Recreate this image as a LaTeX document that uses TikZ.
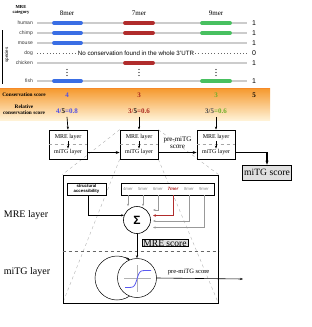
\documentclass[tikz,border=0pt]{standalone}
\usepackage{fontspec}
\setmainfont{Liberation Serif}
\setsansfont{Liberation Sans}
\usetikzlibrary{arrows.meta, positioning, calc, backgrounds}

\definecolor{merblue}{RGB}{58,110,228}
\definecolor{merred}{RGB}{176,44,44}
\definecolor{mergreen}{RGB}{72,192,96}
\definecolor{valblue}{RGB}{80,80,230}
\definecolor{valred}{RGB}{170,40,30}
\definecolor{valgreen}{RGB}{110,175,40}
\definecolor{bandtop}{RGB}{245,152,44}
\definecolor{bandbot}{RGB}{255,242,214}
\definecolor{sigblue}{RGB}{90,90,240}

\begin{document}
\begin{tikzpicture}[
    x=1pt, y=-1pt,
    spname/.style={anchor=east, font=\fontsize{5}{6}\selectfont\sffamily, text=black!80, inner sep=1pt},
    rowline/.style={draw=black!20, line width=1.4pt},
    merbar/.style={line width=3.8pt, line cap=round},
    hitnum/.style={font=\fontsize{7}{8}\selectfont\sffamily},
    colhead/.style={font=\fontsize{7}{8}\selectfont},
    lbl/.style={font=\fontsize{5.3}{5.8}\selectfont\bfseries, align=center},
    val/.style={font=\fontsize{7}{8}\selectfont\bfseries},
    layerbox/.style={draw, line width=0.7pt, minimum width=38pt, minimum height=29pt},
    boxtext/.style={font=\fontsize{6}{7}\selectfont, inner sep=1pt},
    flow/.style={-{Stealth[length=4pt,width=3pt]}, line width=1.2pt},
    thinarrow/.style={-{Stealth[length=3pt,width=2.2pt]}, line width=0.5pt},
    zoomline/.style={draw=black!30, dashed, line width=0.4pt},
    layername/.style={font=\fontsize{10}{12}\selectfont},
    merlbl/.style={font=\fontsize{4.3}{5}\selectfont\sffamily, text=black!45, inner sep=0.5pt},
    feed/.style={-{Stealth[length=2.5pt,width=2pt]}, draw=black!40, line width=0.6pt},
    scorebox/.style={draw, fill=black!12, line width=0.6pt}
]
\useasboundingbox (0,0) rectangle (312,327);

% conservation band
\shade[top color=bandtop, bottom color=bandbot] (0,88) rectangle (270,120);
\draw[bandtop!90!red, line width=1pt] (0,88) -- (270,88);

% alignment of the MRE sites
\node[lbl, font=\fontsize{4.6}{5.2}\selectfont\bfseries] (category) at (21,10) {MRE\\category};
\node[colhead] (h8) at (67,13) {8mer};
\node[colhead] (h7) at (139,13) {7mer};
\node[colhead] (h9) at (216,13) {9mer};

\foreach \sp/\y in {human/23, chimp/33, mouse/43, chicken/63, fish/81}{
    \node[spname] (\sp) at (34,\y) {\sp};
    \draw[rowline] (37,\y) -- (247,\y);
    \node[hitnum] (hit-\sp) at (254,\y) {1};
}
\foreach \y in {23,33,43,81} \draw[merbar, merblue] (54,\y) -- (81,\y);
\foreach \y in {23,33,63} \draw[merbar, merred] (125,\y) -- (153,\y);
\foreach \y in {23,33,81} \draw[merbar, mergreen] (202,\y) -- (230,\y);

\node[spname] (dog) at (34,53) {dog};
\node[font=\fontsize{6.2}{7}\selectfont\sffamily, inner sep=1pt] (nocons) at (136,53) {No conservation found in the whole 3'UTR};
\draw[black!60, line width=0.6pt, dash pattern=on 0.6pt off 2.6pt] (37,53) -- (nocons.west);
\draw[black!60, line width=0.6pt, dash pattern=on 0.6pt off 2.6pt] (nocons.east) -- (247,53);
\node[hitnum] (hit-dog) at (254,53) {0};

\foreach \x in {67,139,216}
    \foreach \d in {69.5,72.5,75.5} \fill (\x,\d) circle (0.55pt);

\draw[line width=0.5pt] (2.5,30) -- (2.5,84);
\node[rotate=90, font=\fontsize{4.5}{5}\selectfont\sffamily] (species) at (7,55) {species};

% scores
\node[lbl] (cons) at (24,95) {Conservation score};
\node[lbl] (relcons) at (24,110) {Relative\\conservation score};
\node[val, text=valblue] (c8) at (67,95) {4};
\node[val, text=valred] (c7) at (139,95) {3};
\node[val, text=valgreen] (c9) at (216,95) {3};
\node[val] (ctot) at (254,95) {5};
\node[val, text=valblue] (r8) at (67,111) {4/\textcolor{black}{5}=0.8};
\node[val, text=valred] (r7) at (139,111) {3/\textcolor{black}{5}=0.6};
\node[val, text=valgreen] (r9) at (216,111) {\textcolor{black!70}{3/5}=0.6};

% layer boxes
\foreach \i/\x in {1/68,2/139,3/216}{
    \node[layerbox] (box\i) at (\x,144.5) {};
    \node[boxtext] (mre\i) at (\x,137) {MRE layer};
    \node[boxtext] (mitg\i) at (\x,152.5) {miTG layer};
    \draw[black!35, dashed, line width=0.3pt] (box\i.west) -- (box\i.east);
    \draw[thinarrow] (mre\i.south) -- (mitg\i.north);
}
\draw[thinarrow, line width=0.7pt] (r8.south) -- (box1.north);
\draw[thinarrow, line width=0.7pt] (r7.south) -- (box2.north);
\draw[thinarrow, line width=0.7pt] (r9.south) -- (box3.north);

\node[scorebox, font=\fontsize{9.6}{11}\selectfont, inner xsep=2pt, minimum height=15pt] (mitgscore) at (267,172.5) {miTG score};
\draw[flow] ([yshift=-8pt]box1.east) -- ([yshift=-8pt]box2.west);
\draw[flow] ([yshift=-8pt]box2.east) -- node[above, align=center, font=\fontsize{7}{7.5}\selectfont] {pre-miTG\\score} ([yshift=-8pt]box3.west);
\draw[flow] ([yshift=-8pt]box3.east) -| (mitgscore.north);

% zoom into one layer box
\node[draw, line width=1pt, minimum width=155pt, minimum height=128pt] (zoombox) at (140.5,239) {};
\begin{scope}[on background layer]
    \draw[zoomline] (box2.north west) -- (zoombox.north west);
    \draw[zoomline] (box2.north east) -- (zoombox.north east);
    \draw[zoomline] (box2.south west) -- (zoombox.south west);
    \draw[zoomline] (box2.south east) -- (zoombox.south east);
\end{scope}
\draw[black!60, dashed, line width=0.4pt] (zoombox.west |- 0,251) -- (zoombox.east |- 0,251);

\node[layername] (mrelayer) at (26,215) {MRE layer};
\node[layername] (mitglayer) at (27,272) {miTG layer};

% MRE layer
\node[draw, fill=white, line width=0.6pt, minimum width=39pt, minimum height=12pt, align=center, inner sep=0.5pt, font=\fontsize{4.3}{4.6}\selectfont\sffamily\bfseries] (access) at (86.5,189) {structural\\accessibility};
\node[draw, fill=white, line width=0.6pt, minimum width=93pt, minimum height=12pt] (merbox) at (167.5,189) {};
\foreach \k/\x in {4/128,5/143,6/158,8/189,9/204}
    \node[merlbl] (m\k) at (\x,189) {\k mer};
\node[merlbl, text=merred, font=\fontsize{4.6}{5}\selectfont\sffamily\bfseries\itshape] (m7) at (173,189) {7mer};

\node[circle, draw, fill=white, line width=0.6pt, minimum size=27pt, inner sep=0pt, font=\fontsize{12}{12}\selectfont\sffamily\bfseries] (sigma) at (137,220) {Σ};

\coordinate (in6) at (153,210);
\coordinate (in7) at (153,215.5);
\coordinate (in8) at (153,221);
\coordinate (in9) at (153,227.5);
\draw[feed] (m4.south |- merbox.south) -- (m4.south |- sigma.north);
\draw[feed] (m5.south |- merbox.south) -- (m5.south |- sigma.north);
\draw[feed] (m6.south |- merbox.south) |- (in6);
\draw[feed] (m8.south |- merbox.south) |- (in8);
\draw[feed] (m9.south |- merbox.south) |- (in9);
\draw[feed, draw=merred, line width=1pt, -{Stealth[length=3pt,width=2.6pt]}] (m7.south |- merbox.south) |- (in7);
\draw[thinarrow, line width=0.6pt] ([xshift=2pt]access.south) |- (sigma.160);

\node[scorebox, font=\fontsize{9.5}{10}\selectfont, inner xsep=1.5pt, inner ysep=0.6pt] (mrescore) at (165,243) {MRE score};

% miTG layer
\node[circle, draw, line width=0.5pt, minimum size=44pt, inner sep=0pt] (cyc) at (117,278) {};
\node[circle, draw, fill=white, line width=0.5pt, minimum size=39pt, inner sep=0pt] (sig) at (137,278) {};
\draw[black!30, line width=0.4pt] ([xshift=-13pt]sig.center) -- ([xshift=14pt]sig.center);
\draw[black!30, line width=0.4pt] ([yshift=13pt]sig.center) -- ([yshift=-14pt]sig.center);
\draw[sigblue, line width=0.8pt, domain=-12:14, samples=40, smooth] plot ({137+\x},{279-8.5*tanh(\x/2.6)});
\draw[-{Stealth[length=3pt,width=2.2pt]}, line width=0.5pt] (cyc.68) -- (cyc.55);
\draw[thinarrow, line width=0.6pt] (sigma.south) -- (sig.north);

\coordinate (outend) at (243,279);
\draw[thinarrow, line width=0.6pt] (sig.east) -- node[above, pos=0.37, font=\fontsize{6.5}{7}\selectfont] {pre-miTG score} (outend);

\end{tikzpicture}
\end{document}
